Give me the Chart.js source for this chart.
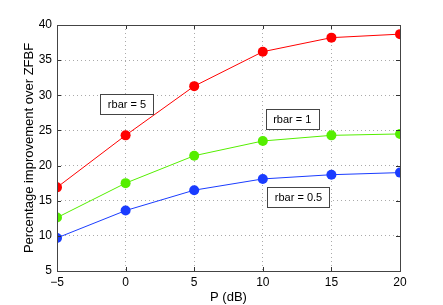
<!DOCTYPE html>
<html>
<head>
<meta charset="utf-8">
<script src="https://cdn.jsdelivr.net/npm/chart.js@4/dist/chart.umd.min.js"></script>
<style>
  html, body { margin: 0; padding: 0; background: #fff; }
  #wrap { width: 443px; height: 305px; }
</style>
</head>
<body>
<div id="wrap"><canvas id="plotCanvas"></canvas></div>
<script>
// data
var powerDb = [-5, 0, 5, 10, 15, 20];
var rbar5 = [16.9, 24.3, 31.3, 36.2, 38.2, 38.7];
var rbar1 = [12.6, 17.5, 21.4, 23.5, 24.3, 24.5];
var rbar05 = [9.7, 13.6, 16.5, 18.1, 18.7, 19.0];
var xTicks = [-5, 0, 5, 10, 15, 20];
var yTicks = [5, 10, 15, 20, 25, 30, 35, 40];

// text boxes, anchored at data coordinates (centre of box)
var notes = [
    { text: 'rbar = 5', x: 0.1, y: 28.8 },
    { text: 'rbar = 1', x: 12.15, y: 26.6 },
    { text: 'rbar = 0.5', x: 12.6, y: 15.55 }
];

function makeSeries(values, color) {
    return {
        data: powerDb.map(function (p, i) { return { x: p, y: values[i] }; }),
        borderColor: color,
        backgroundColor: color,
        borderWidth: 1,
        pointRadius: 5,
        pointHoverRadius: 5,
        pointBorderWidth: 0,
        tension: 0
    };
}

var frameAndNotes = {
    id: 'frameAndNotes',
    afterDraw: function (chart) {
        var ctx = chart.ctx;
        var a = chart.chartArea;
        var xs = chart.scales.x, ys = chart.scales.y;
        ctx.save();
        // inward tick marks
        ctx.strokeStyle = '#333';
        ctx.lineWidth = 1;
        xTicks.forEach(function (t) {
            var px = Math.round(xs.getPixelForValue(t)) + 0.5;
            ctx.beginPath();
            ctx.moveTo(px, a.bottom); ctx.lineTo(px, a.bottom - 4);
            ctx.moveTo(px, a.top); ctx.lineTo(px, a.top + 4);
            ctx.stroke();
        });
        yTicks.forEach(function (t) {
            var py = Math.round(ys.getPixelForValue(t)) + 0.5;
            ctx.beginPath();
            ctx.moveTo(a.left, py); ctx.lineTo(a.left + 4, py);
            ctx.moveTo(a.right, py); ctx.lineTo(a.right - 4, py);
            ctx.stroke();
        });
        // frame
        ctx.strokeStyle = '#444';
        ctx.strokeRect(Math.round(a.left) + 0.5, Math.round(a.top) + 0.5,
            Math.round(a.right - a.left), Math.round(a.bottom - a.top));
        // labelled boxes
        ctx.font = '11px "Liberation Sans", Arial, sans-serif';
        ctx.textAlign = 'center';
        ctx.textBaseline = 'middle';
        notes.forEach(function (n) {
            var cx = xs.getPixelForValue(n.x);
            var cy = ys.getPixelForValue(n.y);
            var w = Math.round(ctx.measureText(n.text).width + 15);
            var h = 20;
            var bx = Math.round(cx - w / 2) + 0.5, by = Math.round(cy - h / 2) + 0.5;
            ctx.fillStyle = '#fff';
            ctx.fillRect(bx, by, w, h);
            ctx.strokeStyle = '#444';
            ctx.strokeRect(bx, by, w, h);
            ctx.fillStyle = '#000';
            ctx.fillText(n.text, cx, cy + 1);
        });
        ctx.restore();
    }
};

new Chart(document.getElementById('plotCanvas'), {
    type: 'line',
    data: {
        datasets: [
            makeSeries(rbar5, '#ff0000'),
            makeSeries(rbar1, '#55ee00'),
            makeSeries(rbar05, '#1a3cff')
        ]
    },
    options: {
        responsive: true,
        maintainAspectRatio: false,
        animation: false,
        events: [],
        layout: { padding: { left: 22, top: 25, right: 43, bottom: 0 } },
        plugins: { legend: { display: false }, tooltip: { enabled: false } },
        scales: {
            x: {
                type: 'linear',
                min: -5, max: 20,
                afterBuildTicks: function (s) { s.ticks = xTicks.map(function (v) { return { value: v }; }); },
                afterFit: function (s) { s.height = 34; },
                ticks: {
                    color: '#000',
                    padding: 4,
                    font: { family: '"Liberation Sans", Arial, sans-serif', size: 12 },
                    callback: function (v) { return String(v).replace('-', '\u2212'); }
                },
                grid: { color: '#aaa', tickLength: 0, drawTicks: false },
                border: { display: false, dash: [1, 3] },
                title: {
                    display: true, text: 'P (dB)', color: '#000', padding: 0,
                    font: { family: '"Liberation Sans", Arial, sans-serif', size: 13 }
                }
            },
            y: {
                min: 5, max: 40,
                afterBuildTicks: function (s) { s.ticks = yTicks.map(function (v) { return { value: v }; }); },
                afterFit: function (s) { s.width = 35; },
                ticks: {
                    color: '#000',
                    padding: 5,
                    font: { family: '"Liberation Sans", Arial, sans-serif', size: 12 }
                },
                grid: { color: '#aaa', tickLength: 0, drawTicks: false },
                border: { display: false, dash: [1, 3] },
                title: {
                    display: true, text: 'Percentage improvement over ZFBF', color: '#000', padding: 0,
                    font: { family: '"Liberation Sans", Arial, sans-serif', size: 13 }
                }
            }
        }
    },
    plugins: [frameAndNotes]
});
</script>
</body>
</html>
